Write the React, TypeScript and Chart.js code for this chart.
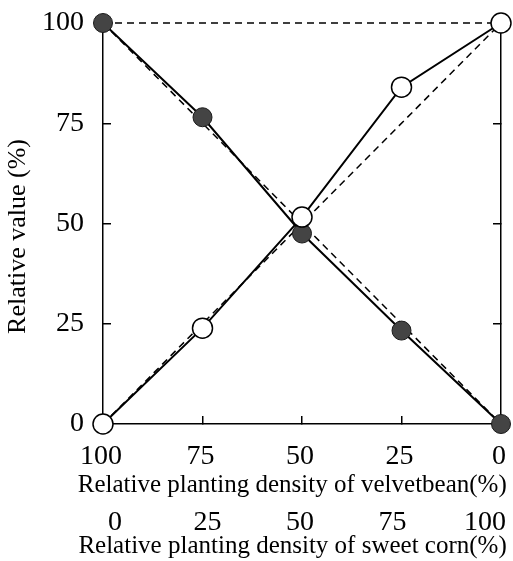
import React, { useEffect, useRef } from "react";
import { Chart, registerables } from "chart.js";

Chart.register(...registerables);

// Relative planting density of velvetbean (%) – x positions
const velvetbeanDensity = [100, 75, 50, 25, 0];
// Relative planting density of sweet corn (%) – second tick row
const sweetCornDensity = [0, 25, 50, 75, 100];
// Relative value (%) – velvetbean (filled circles)
const velvetbeanRelative = [100, 76.5, 47.5, 23.3, 0];
// Relative value (%) – sweet corn (open circles)
const sweetCornRelative = [0, 23.9, 51.6, 84, 100];
// Expected (dashed) reference lines
const expectedVelvetbean = [100, 0];
const expectedSweetCorn = [0, 100];
const expectedEnds = [100, 0];
const yTicks = [0, 25, 50, 75, 100];

const FONT = "'Liberation Serif', 'Times New Roman', serif";

const noPad = (s: any) => {
  s.paddingTop = 0;
  s.paddingBottom = 0;
  s.paddingLeft = 0;
  s.paddingRight = 0;
};

export default function App() {
  const ref = useRef<HTMLCanvasElement | null>(null);

  useEffect(() => {
    const canvas = ref.current;
    if (!canvas) return;
    const pts = (xs: number[], ys: number[]) => xs.map((x, i) => ({ x, y: ys[i] }));
    const dashed = (label: string, ys: number[]) => ({
      label,
      data: pts(expectedEnds, ys),
      borderColor: "#000",
      borderWidth: 1.5,
      borderDash: [7, 5],
      pointRadius: 0,
      clip: false as any,
    });
    const chart = new Chart(canvas, {
      type: "line",
      data: {
        datasets: [
          {
            label: "sweet corn",
            data: pts(velvetbeanDensity, sweetCornRelative),
            borderColor: "#000",
            borderWidth: 2,
            pointRadius: 10,
            pointBackgroundColor: "#fff",
            pointBorderColor: "#000",
            pointBorderWidth: 1.5,
            clip: false as any,
          },
          {
            label: "velvetbean",
            data: pts(velvetbeanDensity, velvetbeanRelative),
            borderColor: "#000",
            borderWidth: 2,
            pointRadius: 9.5,
            pointBackgroundColor: "#444",
            pointBorderColor: "#1a1a1a",
            pointBorderWidth: 1,
            clip: false as any,
          },
          dashed("expected velvetbean", expectedVelvetbean),
          dashed("expected sweet corn", expectedSweetCorn),
          dashed("top", [100, 100]),
        ],
      },
      options: {
        animation: false,
        responsive: false,
        devicePixelRatio: 1,
        layout: { autoPadding: false, padding: { top: 23, left: 0, right: 0, bottom: 0 } },
        plugins: { legend: { display: false }, tooltip: { enabled: false } },
        scales: {
          x: {
            type: "linear",
            position: "bottom",
            weight: 0,
            min: 0,
            max: 100,
            reverse: true,
            afterBuildTicks: (s: any) => {
              s.ticks = velvetbeanDensity.map((v) => ({ value: v }));
            },
            afterFit: (s: any) => {
              s.height = 46;
              noPad(s);
            },
            ticks: {
              autoSkip: false,
              maxRotation: 0,
              padding: 24,
              labelOffset: -2,
              color: "#000",
              font: { family: FONT, size: 28 },
            },
            grid: {
              drawOnChartArea: false,
              drawTicks: true,
              tickLength: -8,
              color: "#000",
              lineWidth: 1.5,
            },
            border: { display: true, color: "#000", width: 1.5 },
          },
          x3: {
            type: "linear",
            position: "bottom",
            weight: 1,
            fullSize: true,
            min: 0,
            max: 100,
            afterFit: (s: any) => {
              s.height = 30;
              noPad(s);
            },
            ticks: { display: false },
            grid: { display: false, drawTicks: false },
            border: { display: false },
            title: {
              display: true,
              align: "end",
              text: "Relative planting density of velvetbean(%)\u00a0",
              color: "#000",
              font: { family: FONT, size: 25 },
              padding: { top: 0, bottom: 0 },
            },
          },
          x2: {
            type: "linear",
            position: "bottom",
            weight: 2,
            fullSize: true,
            min: -31.08,
            max: 107.57,
            afterBuildTicks: (s: any) => {
              s.ticks = sweetCornDensity.map((v) => ({ value: v }));
            },
            afterFit: (s: any) => {
              s.height = 61;
              noPad(s);
            },
            ticks: {
              autoSkip: false,
              maxRotation: 0,
              padding: 6,
              color: "#000",
              font: { family: FONT, size: 28 },
            },
            grid: { display: false, drawTicks: false },
            border: { display: false },
            title: {
              display: true,
              align: "end",
              text: "Relative planting density of sweet corn(%)\u00a0",
              color: "#000",
              font: { family: FONT, size: 25 },
              padding: { top: 0, bottom: 0 },
            },
          },
          y: {
            type: "linear",
            position: "left",
            min: 0,
            max: 100,
            afterBuildTicks: (s: any) => {
              s.ticks = yTicks.map((v) => ({ value: v }));
            },
            afterFit: (s: any) => {
              s.width = 103;
              noPad(s);
            },
            ticks: {
              padding: 27,
              color: "#000",
              font: { family: FONT, size: 28 },
            },
            grid: {
              drawOnChartArea: false,
              drawTicks: true,
              tickLength: -8,
              color: "#000",
              lineWidth: 1.5,
            },
            border: { display: true, color: "#000", width: 1.5 },
            title: {
              display: true,
              text: "Relative value (%)\u00a0\u00a0\u00a0\u00a0",
              color: "#000",
              font: { family: FONT, size: 26 },
              padding: { top: 3, bottom: 0 },
            },
          },
          y2: {
            type: "linear",
            position: "right",
            min: 0,
            max: 100,
            afterBuildTicks: (s: any) => {
              s.ticks = yTicks.map((v) => ({ value: v }));
            },
            afterFit: (s: any) => {
              s.width = 12;
              noPad(s);
            },
            ticks: { display: false },
            grid: {
              drawOnChartArea: false,
              drawTicks: true,
              tickLength: -8,
              color: "#000",
              lineWidth: 1.5,
            },
            border: { display: true, color: "#000", width: 1.5 },
          },
        },
      } as any,
    });
    return () => chart.destroy();
  }, []);

  return (
    <div style={{ position: "absolute", left: 0, top: 0, width: 513, height: 561, background: "#fff" }}>
      <canvas ref={ref} width={513} height={561} style={{ display: "block" }} />
    </div>
  );
}
